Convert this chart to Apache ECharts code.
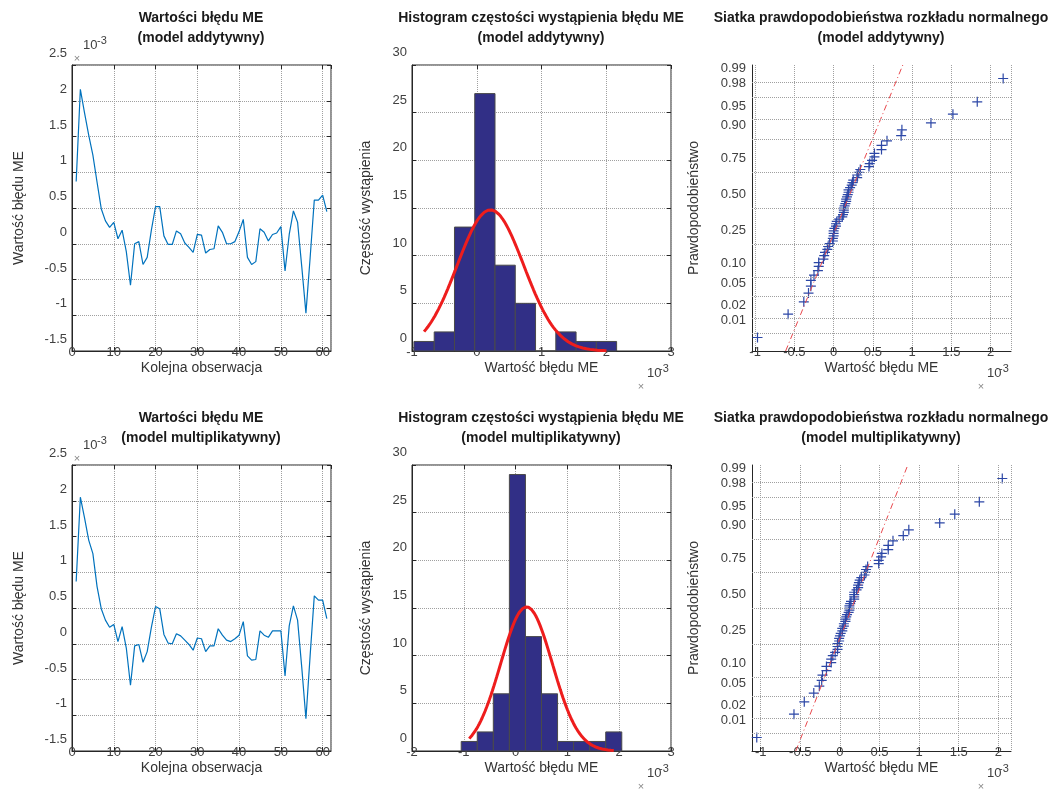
<!DOCTYPE html>
<html>
<head>
<meta charset="utf-8">
<script src="https://cdn.jsdelivr.net/npm/echarts@6/dist/echarts.min.js"></script>
<style>
html, body { margin: 0; background: #fff; }
#main { width: 1052px; height: 790px; }
</style>
</head>
<body>
<div id="main"></div>
<script>
// ME error values (x 10^-3), observations 1..61
var obsAdd = [0.87, 2.16, 1.83, 1.52, 1.24, 0.86, 0.49, 0.32, 0.23, 0.30,
    0.07, 0.19, -0.11, -0.58, 0.00, 0.03, -0.29, -0.19, 0.19, 0.52,
    0.52, 0.11, -0.01, -0.01, 0.18, 0.14, 0.01, -0.05, -0.12, 0.13,
    0.12, -0.13, -0.08, -0.07, 0.25, 0.16, 0.00, 0.00, 0.03, 0.17,
    0.34, -0.19, -0.29, -0.25, 0.21, 0.16, 0.04, 0.13, 0.15, 0.24,
    -0.38, 0.13, 0.46, 0.30, -0.32, -0.97, -0.20, 0.61, 0.61, 0.68, 0.45];
var obsMul = [0.87, 2.05, 1.76, 1.45, 1.26, 0.80, 0.49, 0.33, 0.23, 0.27,
    0.03, 0.24, -0.06, -0.58, -0.03, -0.01, -0.26, -0.11, 0.23, 0.52,
    0.49, 0.13, 0.01, 0.00, 0.14, 0.11, 0.05, -0.01, -0.09, 0.08,
    0.07, -0.11, -0.03, -0.03, 0.21, 0.12, 0.05, 0.03, 0.07, 0.12,
    0.31, -0.17, -0.23, -0.22, 0.18, 0.12, 0.09, 0.18, 0.18, 0.18,
    -0.45, 0.25, 0.53, 0.33, -0.33, -1.05, -0.17, 0.67, 0.61, 0.61, 0.35];
// histogram counts, 10 bins between min and max of the data
var histAdd = [1, 2, 13, 27, 9, 5, 0, 2, 1, 1];
var histMul = [1, 2, 6, 29, 12, 6, 1, 1, 1, 2];
// probability grid of the normal plot
var probTicks = [0.01, 0.02, 0.05, 0.10, 0.25, 0.50, 0.75, 0.90, 0.95, 0.98, 0.99];
var qqRangeAdd = [-1.04, 2.26];
var qqRangeMul = [-1.11, 2.16];
var histRangeAdd = [-1, 3];
var histRangeMul = [-2, 3];
var qqZLim = 2.65;

var FONT = 'Liberation Sans, Arial, sans-serif';
var AXIS_COLOR = '#262626';
var GRID_LINE = { show: true, lineStyle: { type: 'dotted', color: '#a0a0a0', width: 1 } };

function norminv(p) {
    var a = [-3.969683028665376e+01, 2.209460984245205e+02, -2.759285104469687e+02, 1.383577518672690e+02, -3.066479806614716e+01, 2.506628277459239e+00];
    var b = [-5.447609879822406e+01, 1.615858368580409e+02, -1.556989798598866e+02, 6.680131188771972e+01, -1.328068155288572e+01];
    var c = [-7.784894002430293e-03, -3.223964580411365e-01, -2.400758277161838e+00, -2.549732539343734e+00, 4.374664141464968e+00, 2.938163982698783e+00];
    var d = [7.784695709041462e-03, 3.224671290700398e-01, 2.445134137142996e+00, 3.754408661907416e+00];
    var q, r;
    if (p < 0.02425) {
        q = Math.sqrt(-2 * Math.log(p));
        return (((((c[0] * q + c[1]) * q + c[2]) * q + c[3]) * q + c[4]) * q + c[5]) / ((((d[0] * q + d[1]) * q + d[2]) * q + d[3]) * q + 1);
    }
    if (p > 1 - 0.02425) {
        q = Math.sqrt(-2 * Math.log(1 - p));
        return -(((((c[0] * q + c[1]) * q + c[2]) * q + c[3]) * q + c[4]) * q + c[5]) / ((((d[0] * q + d[1]) * q + d[2]) * q + d[3]) * q + 1);
    }
    q = p - 0.5;
    r = q * q;
    return (((((a[0] * r + a[1]) * r + a[2]) * r + a[3]) * r + a[4]) * r + a[5]) * q / (((((b[0] * r + b[1]) * r + b[2]) * r + b[3]) * r + b[4]) * r + 1);
}

function mean(arr) {
    var s = 0;
    for (var i = 0; i < arr.length; i++) s += arr[i];
    return s / arr.length;
}

function stdev(arr) {
    var m = mean(arr), s = 0;
    for (var i = 0; i < arr.length; i++) s += (arr[i] - m) * (arr[i] - m);
    return Math.sqrt(s / (arr.length - 1));
}

// matlab style percentile on sorted data
function prctile(sorted, p) {
    var n = sorted.length;
    var pos = n * p / 100 + 0.5;
    if (pos <= 1) return sorted[0];
    if (pos >= n) return sorted[n - 1];
    var k = Math.floor(pos);
    return sorted[k - 1] + (pos - k) * (sorted[k] - sorted[k - 1]);
}

function histBars(obs, counts) {
    var lo = Math.min.apply(null, obs), hi = Math.max.apply(null, obs);
    var w = (hi - lo) / counts.length;
    var bars = [];
    for (var i = 0; i < counts.length; i++) {
        bars.push([lo + i * w, lo + (i + 1) * w, counts[i]]);
    }
    return bars;
}

// fitted normal density scaled to counts, drawn between first and last bin centre
function fitCurve(obs, counts) {
    var lo = Math.min.apply(null, obs), hi = Math.max.apply(null, obs);
    var w = (hi - lo) / counts.length;
    var mu = mean(obs), sd = stdev(obs);
    var x0 = lo + w / 2, x1 = hi - w / 2;
    var pts = [];
    for (var i = 0; i <= 100; i++) {
        var x = x0 + (x1 - x0) * i / 100;
        var y = obs.length * w * Math.exp(-0.5 * Math.pow((x - mu) / sd, 2)) / (sd * Math.sqrt(2 * Math.PI));
        pts.push([x, y]);
    }
    return pts;
}

function qqPoints(obs) {
    var s = obs.slice().sort(function (a, b) { return a - b; });
    var n = s.length;
    return s.map(function (v, i) { return [v, norminv((i + 0.5) / n)]; });
}

function qqRefLine(obs) {
    var s = obs.slice().sort(function (a, b) { return a - b; });
    var q1 = prctile(s, 25), q3 = prctile(s, 75);
    var z1 = norminv(0.25), z3 = norminv(0.75);
    var k = (q3 - q1) / (z3 - z1);
    return [[q1 + (-qqZLim - z1) * k, -qqZLim], [q1 + (qqZLim - z1) * k, qqZLim]];
}

function renderBar(params, api) {
    var p0 = api.coord([api.value(0), api.value(2)]);
    var p1 = api.coord([api.value(1), 0]);
    return {
        type: 'rect',
        shape: { x: p0[0], y: p0[1], width: p1[0] - p0[0], height: p1[1] - p0[1] },
        style: { fill: '#312f86', stroke: '#4a4a4a', lineWidth: 1 }
    };
}

var tickLabel = { color: '#404040', fontSize: 13, fontFamily: FONT };
var nameStyle = { color: '#333', fontSize: 14, fontFamily: FONT };
var innerTick = { show: true, inside: true, length: 4, lineStyle: { color: AXIS_COLOR } };

function xAxisOf(gi, min, max, interval, name, extra) {
    var ax = {
        type: 'value', gridIndex: gi, min: min, max: max, position: 'bottom',
        name: name, nameLocation: 'middle', nameGap: 10, nameTextStyle: nameStyle,
        axisLine: { show: true, onZero: false, lineStyle: { color: AXIS_COLOR } },
        axisTick: innerTick,
        axisLabel: Object.assign({ margin: 1, verticalAlign: 'middle' }, tickLabel),
        splitLine: GRID_LINE
    };
    if (interval) ax.interval = interval;
    return Object.assign(ax, extra || {});
}

// tick labels sit a little above their grid lines, as in the source figure
function yAxisOf(gi, min, max, interval, name, gap, lift) {
    return {
        type: 'value', gridIndex: gi, min: min, max: max, interval: interval, position: 'left',
        name: name, nameLocation: 'middle', nameGap: gap, nameTextStyle: nameStyle,
        axisLine: { show: true, onZero: false, lineStyle: { color: AXIS_COLOR } },
        axisTick: innerTick,
        axisLabel: Object.assign({ margin: 5, verticalAlign: 'bottom', lineHeight: lift * 2 }, tickLabel),
        splitLine: GRID_LINE
    };
}

// tick-only axis for the opposite side of a boxed plot
function mirrorAxis(gi, pos, min, max, interval) {
    return {
        type: 'value', gridIndex: gi, position: pos, min: min, max: max, interval: interval,
        axisLine: { show: false, onZero: false }, axisTick: innerTick,
        axisLabel: { show: false }, splitLine: { show: false }
    };
}

function qqYAxis(gi) {
    return {
        type: 'value', gridIndex: gi, min: -qqZLim, max: qqZLim, position: 'left',
        name: 'Prawdopodobieństwo', nameLocation: 'middle', nameGap: 51, nameTextStyle: nameStyle,
        axisLine: { show: true, onZero: false, lineStyle: { color: AXIS_COLOR } },
        axisTick: { show: false }, axisLabel: { show: false }, splitLine: { show: false }
    };
}

var gridTops = [65, 465];
var gridLefts = [72, 412, 752];
var grids = [];
for (var r = 0; r < 2; r++) {
    for (var c = 0; c < 3; c++) {
        grids.push({
            left: gridLefts[c], top: gridTops[r], width: 259, height: 286,
            show: c < 2, borderColor: AXIS_COLOR, borderWidth: 1, backgroundColor: 'transparent'
        });
    }
}

var xAxes = [], yAxes = [], series = [];
var models = [
    { obs: obsAdd, hist: histAdd, histRange: histRangeAdd, qqRange: qqRangeAdd },
    { obs: obsMul, hist: histMul, histRange: histRangeMul, qqRange: qqRangeMul }
];

models.forEach(function (m, r) {
    var g = r * 3;
    // time series
    xAxes.push(xAxisOf(g, 0, 62, 10, 'Kolejna obserwacja', { axisLabel: Object.assign({ margin: 1, verticalAlign: 'middle', showMaxLabel: false }, tickLabel) }));
    yAxes.push(yAxisOf(g, -1.5, 2.5, 0.5, 'Wartość błędu ME', 46, 11.5));
    series.push({
        type: 'line', xAxisIndex: g, yAxisIndex: g, showSymbol: false, animation: false,
        data: m.obs.map(function (v, i) { return [i + 1, v]; }),
        lineStyle: { color: '#0072bd', width: 1.2 }
    });
    // histogram
    xAxes.push(xAxisOf(g + 1, m.histRange[0], m.histRange[1], 1, 'Wartość błędu ME'));
    yAxes.push(yAxisOf(g + 1, 0, 30, 5, 'Częstość wystąpienia', 39, 12.5));
    series.push({
        type: 'custom', xAxisIndex: g + 1, yAxisIndex: g + 1, animation: false,
        renderItem: renderBar, encode: { x: [0, 1], y: 2 },
        data: histBars(m.obs, m.hist)
    });
    series.push({
        type: 'line', xAxisIndex: g + 1, yAxisIndex: g + 1, showSymbol: false, animation: false,
        data: fitCurve(m.obs, m.hist), smooth: false,
        lineStyle: { color: '#ee1d1d', width: 3 }
    });
    // normal probability plot
    xAxes.push(xAxisOf(g + 2, m.qqRange[0], m.qqRange[1], null, 'Wartość błędu ME', {
        splitNumber: 6,
        axisLabel: Object.assign({ margin: 1, verticalAlign: 'middle', showMinLabel: false, showMaxLabel: false }, tickLabel)
    }));
    yAxes.push(qqYAxis(g + 2));
    series.push({
        type: 'line', xAxisIndex: g + 2, yAxisIndex: g + 2, showSymbol: false, animation: false,
        data: qqRefLine(m.obs),
        lineStyle: { color: '#e8474c', width: 1, type: [6, 3, 1, 3] }
    });
    series.push({
        type: 'scatter', xAxisIndex: g + 2, yAxisIndex: g + 2, animation: false,
        symbol: 'path://M4.4,0H5.6V4.4H10V5.6H5.6V10H4.4V5.6H0V4.4H4.4Z', symbolSize: 10,
        itemStyle: { color: '#2c47a6', opacity: 1 },
        data: qqPoints(m.obs),
        markLine: {
            silent: true, symbol: ['none', 'none'], animation: false,
            lineStyle: { type: 'dotted', color: '#a0a0a0', width: 1 },
            label: Object.assign({ position: 'start', distance: 6, formatter: '{b}', verticalAlign: 'bottom', lineHeight: 27 }, tickLabel),
            data: probTicks.map(function (p) { return { yAxis: norminv(p), name: p.toFixed(2) }; })
        }
    });
});

// tick marks on the top and right edges of the boxed plots
models.forEach(function (m, r) {
    var g = r * 3;
    xAxes.push(mirrorAxis(g, 'top', 0, 62, 10));
    yAxes.push(mirrorAxis(g, 'right', -1.5, 2.5, 0.5));
    xAxes.push(mirrorAxis(g + 1, 'top', m.histRange[0], m.histRange[1], 1));
    yAxes.push(mirrorAxis(g + 1, 'right', 0, 30, 5));
});

function txt(x, y, text, size, color, weight, align, valign) {
    return {
        type: 'text', x: x, y: y, silent: true,
        style: {
            text: text, fill: color, fontSize: size, fontWeight: weight || 'normal', fontFamily: FONT,
            textAlign: align || 'left', align: align || 'left',
            textVerticalAlign: valign || 'middle', verticalAlign: valign || 'middle', lineHeight: 20
        }
    };
}

var graphics = [];
var subtitles = ['(model addytywny)', '(model multiplikatywny)'];
[0, 400].forEach(function (dy, r) {
    graphics.push(txt(201, 8 + dy, 'Wartości błędu ME\n' + subtitles[r], 14, '#1a1a1a', 'bold', 'center', 'top'));
    graphics.push(txt(541, 8 + dy, 'Histogram częstości wystąpienia błędu ME\n' + subtitles[r], 14, '#1a1a1a', 'bold', 'center', 'top'));
    graphics.push(txt(881, 8 + dy, 'Siatka prawdopodobieństwa rozkładu normalnego\n' + subtitles[r], 14, '#1a1a1a', 'bold', 'center', 'top'));
    // exponent of the time series axis
    graphics.push(txt(77, 59 + dy, '×', 11, '#888', 'normal', 'center'));
    graphics.push(txt(83, 45 + dy, '10', 13, '#404040'));
    graphics.push(txt(97, 41 + dy, '-3', 11, '#404040'));
    // exponents of the histogram and probability plot axes
    [647, 987].forEach(function (x) {
        graphics.push(txt(x - 6, 387 + dy, '×', 11, '#888', 'normal', 'center'));
        graphics.push(txt(x, 373 + dy, '10', 13, '#404040'));
        graphics.push(txt(x + 12, 369 + dy, '-3', 11, '#404040'));
    });
});

var chart = echarts.init(document.getElementById('main'), null, { renderer: 'canvas' });
chart.setOption({
    backgroundColor: '#fff',
    animation: false,
    grid: grids,
    xAxis: xAxes,
    yAxis: yAxes,
    series: series,
    graphic: graphics
});
</script>
</body>
</html>
